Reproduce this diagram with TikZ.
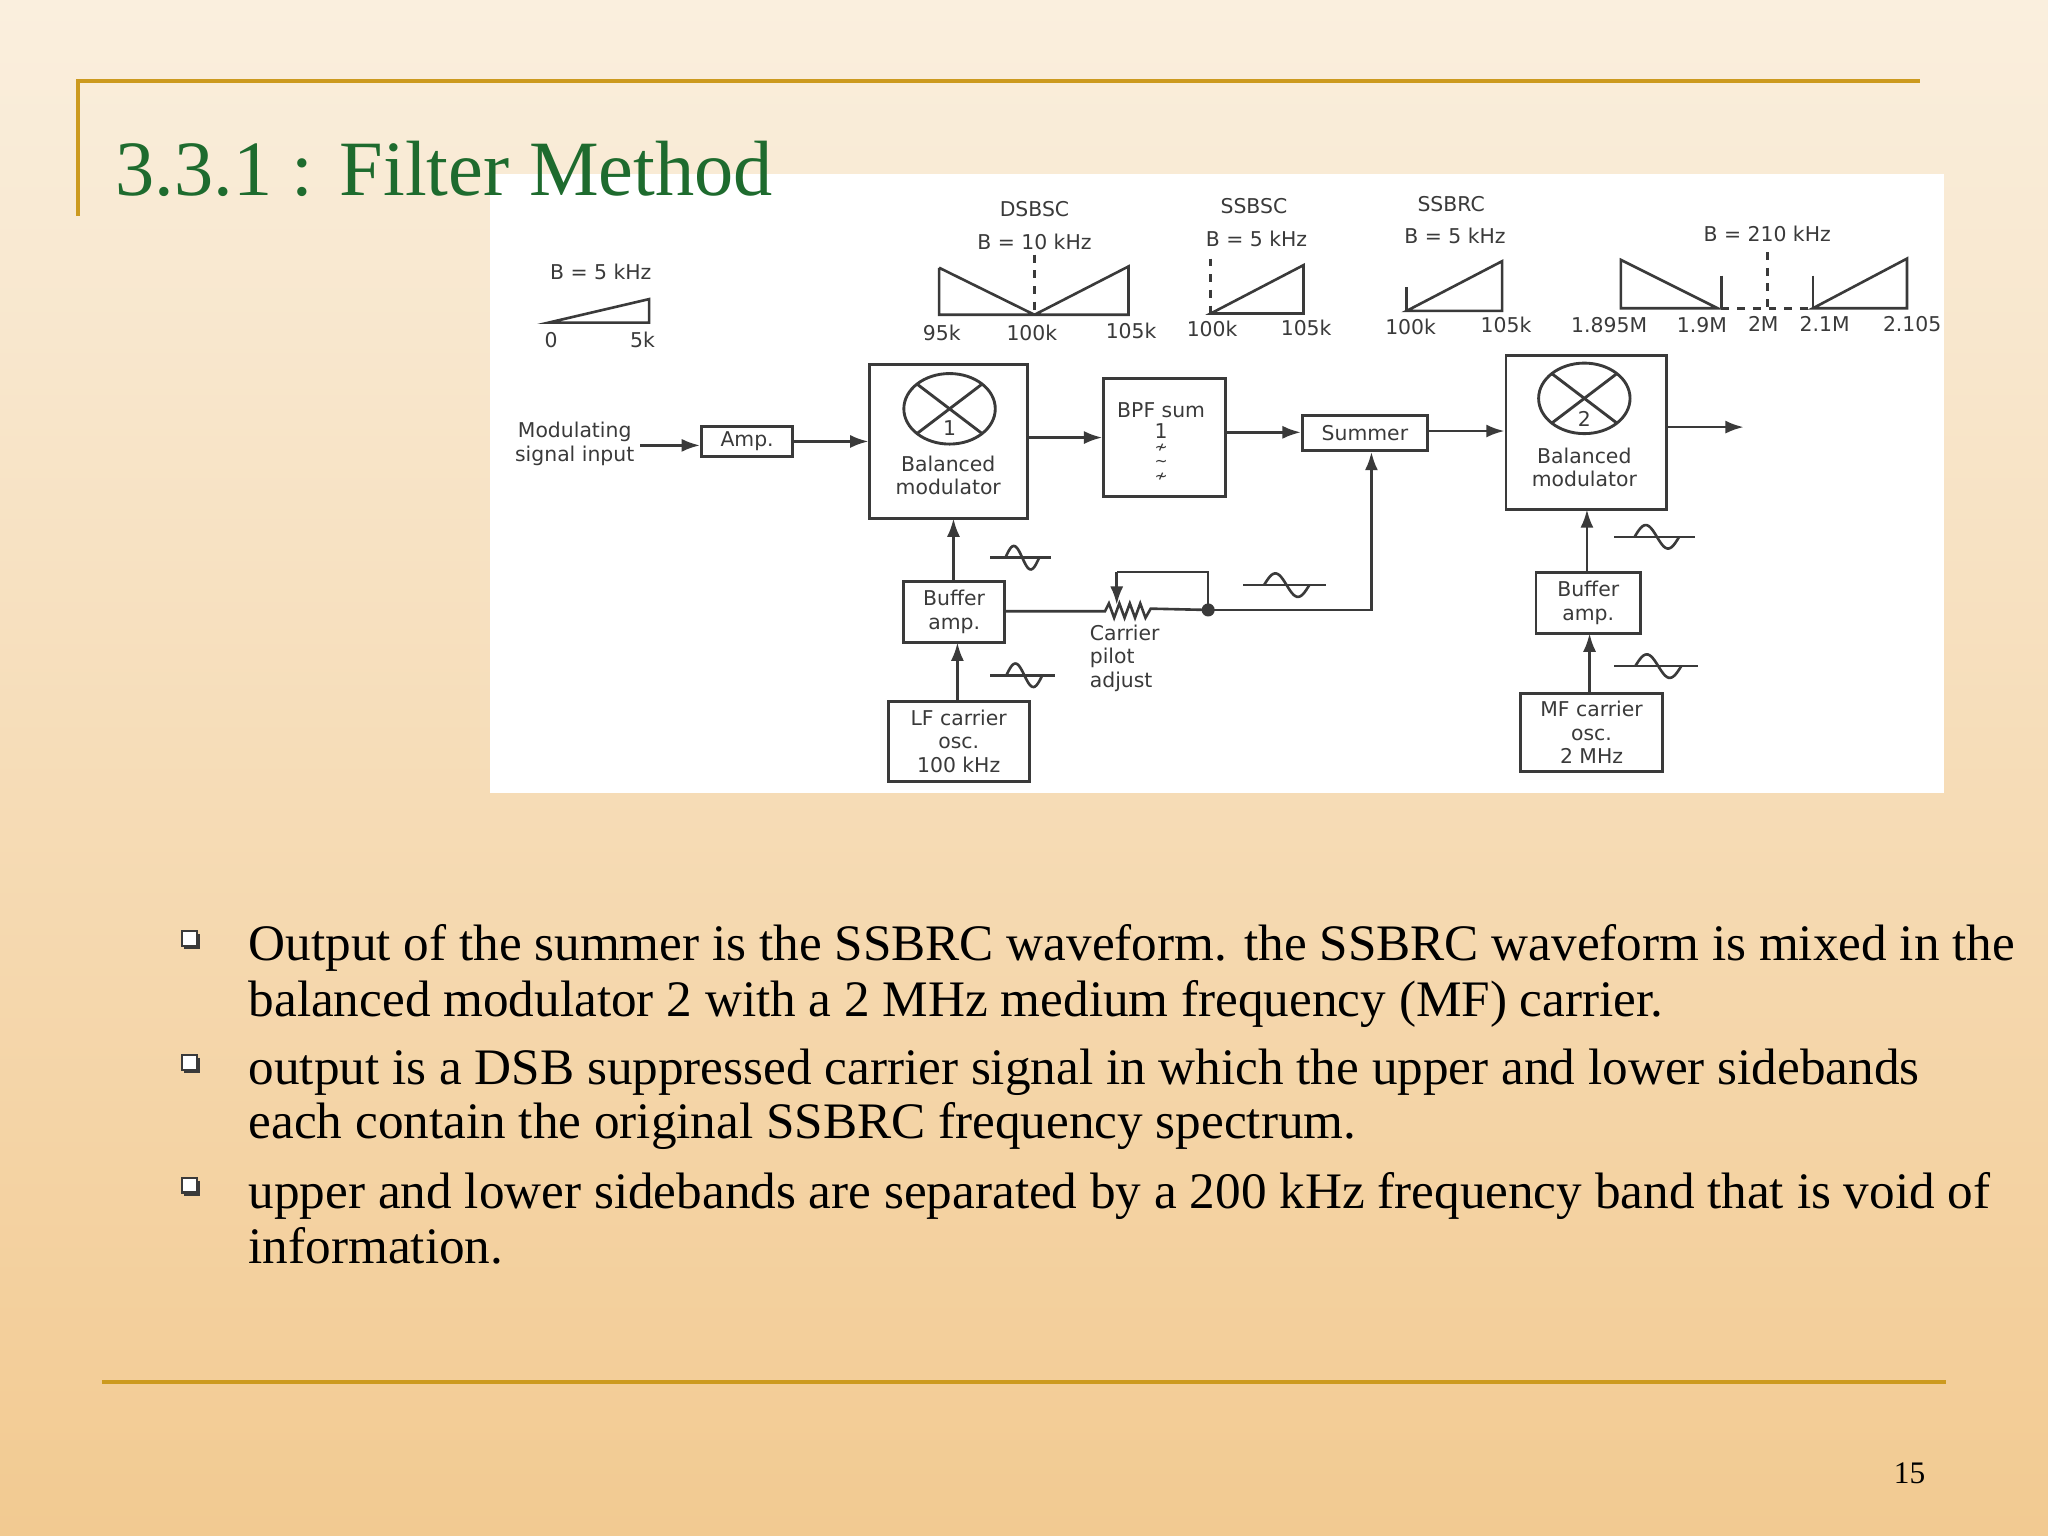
\documentclass[tikz,border=0pt]{standalone}
\usepackage{fontspec}
\setmainfont{Liberation Serif}
\newfontfamily\dg{DejaVu Sans}
\usetikzlibrary{arrows.meta}
\definecolor{gold}{HTML}{CC9A1F}
\definecolor{ttl}{HTML}{1E6B2E}
\definecolor{ink}{HTML}{3A3A3A}
\tikzset{
 blk/.style={draw=ink,line width=1.1pt,fill=white,inner sep=0pt},
 lbl/.style={text=ink,font=\dg\fontsize{7.8}{9}\selectfont,align=center,inner sep=0pt},
 wire/.style={draw=ink,line width=1pt},
 arr/.style={wire,-{Latex[length=7pt,width=5pt]}},
 spec/.style={draw=ink,line width=1pt},
 bul/.style={font=\fontsize{19.6}{21.5}\selectfont,anchor=base west,inner sep=0pt}
}
\newcommand{\sinew}[3]{\draw[ink,line width=1pt] (#1,#3) -- (#2,#3);
 \draw[ink,line width=1pt,domain=0:1,samples=30,variable=\t] plot ({#1+0.25*(#2-#1)+0.55*(#2-#1)*\t},{#3-9*sin(360*\t)});}
\begin{document}
\begin{tikzpicture}[x=0.5pt,y=-0.5pt]
\useasboundingbox (0,0) rectangle (1568,1176);
\shade[top color={rgb,255:red,250;green,239;blue,222},bottom color={rgb,255:red,242;green,202;blue,145}] (0,0) rectangle (1568,1176);
\draw[gold,line width=1.5pt] (60,165) -- (60,62) -- (1470,62);
\draw[gold,line width=1.5pt] (78,1058) -- (1490,1058);
\fill[white] (375,133) rectangle (1488,607);
\node[anchor=base west,text=ttl,font=\fontsize{30}{32}\selectfont,inner sep=0pt] (title) at (88,150) {3.3.1 : Filter Method};
% spectra
\node[lbl] (t0) at (460,208) {B = 5 kHz};
\draw[spec] (420,247) -- (497,247) -- (497,229) -- cycle;
\node[lbl] (l0a) at (422,260) {0}; \node[lbl] (l0b) at (492,260) {5k};
\node[lbl] (t1) at (792,160) {DSBSC}; \node[lbl] (t1b) at (792,185) {B = 10 kHz};
\draw[spec] (719,205) -- (719,241) -- (864,241) -- (864,204) -- (792,241) -- (719,205);
\draw[spec,dashed] (792,195) -- (792,241);
\node[lbl] (l1a) at (721,255) {95k}; \node[lbl] (l1b) at (790,255) {100k}; \node[lbl] (l1c) at (866,253) {105k};
\node[lbl] (t2) at (960,158) {SSBSC}; \node[lbl] (t2b) at (962,183) {B = 5 kHz};
\draw[spec,dashed] (927,198) -- (927,240);
\draw[spec] (927,240) -- (998,240) -- (998,203) -- cycle;
\node[lbl] (l2a) at (928,252) {100k}; \node[lbl] (l2b) at (1000,251) {105k};
\node[lbl] (t3) at (1111,156) {SSBRC}; \node[lbl] (t3b) at (1114,181) {B = 5 kHz};
\draw[spec] (1077,220) -- (1077,238);
\draw[spec] (1077,238) -- (1150,238) -- (1150,200) -- cycle;
\node[lbl] (l3a) at (1080,250) {100k}; \node[lbl] (l3b) at (1153,249) {105k};
\node[lbl] (t4) at (1353,179) {B = 210 kHz};
\draw[spec] (1241,199) -- (1241,236) -- (1315,236) -- cycle;
\draw[spec] (1318,211) -- (1318,236); \draw[spec] (1388,211) -- (1388,236);
\draw[spec,dashed] (1318,236) -- (1388,236); \draw[spec,dashed] (1353,193) -- (1353,236);
\draw[spec] (1388,236) -- (1460,236) -- (1460,198) -- cycle;
\node[lbl] (l4a) at (1232,249) {1.895M}; \node[lbl] (l4b) at (1303,249) {1.9M};
\node[lbl] (l4c) at (1350,248) {2M}; \node[lbl] (l4d) at (1397,248) {2.1M};
\begin{scope}\clip (1420,230) rectangle (1488,260);
\node[lbl] (l4e) at (1464,248) {2.105};\end{scope}
% blocks
\node[lbl,anchor=center] (min) at (440,340) {Modulating\\signal input};
\node[blk,minimum width=35pt,minimum height=11.5pt] (amp) at (572,338) {};
\node[lbl] at (amp) {Amp.};
\node[blk,minimum width=60.5pt,minimum height=59pt] (bm1) at (726.5,338) {};
\draw[ink,line width=1.1pt] (727,313) ellipse (17.5pt and 13.5pt);
\draw[ink,line width=1.1pt] (702,294) -- (752,332);
\draw[ink,line width=1.1pt] (752,294) -- (702,332);
\node[lbl] at (727,328) {1};
\node[lbl] (bm1t) at (726,364) {Balanced\\modulator};
\node[blk,minimum width=46.5pt,minimum height=45pt] (bpf) at (891.5,335) {};
\node[lbl] at (889,314) {BPF sum}; \node[lbl] at (889,330) {1};
\node[lbl,font=\dg\fontsize{6}{5.5}\selectfont] at (889,354) {≁\\∼\\≁};
\node[blk,minimum width=48pt,minimum height=13.5pt] (sum) at (1045,331.5) {};
\node[lbl] at (sum) {Summer};
\node[blk,minimum width=61.5pt,minimum height=59pt] (bm2) at (1214.5,331) {};
\draw[ink,line width=1.1pt] (1213,305) ellipse (17.5pt and 13.5pt);
\draw[ink,line width=1.1pt] (1188,286) -- (1238,324);
\draw[ink,line width=1.1pt] (1238,286) -- (1188,324);
\node[lbl] at (1213,321) {2};
\node[lbl] (bm2t) at (1213,358) {Balanced\\modulator};
\node[blk,minimum width=38.5pt,minimum height=23.5pt] (buf1) at (730.5,468.5) {};
\node[lbl] at (buf1) {Buffer\\amp.};
\node[blk,minimum width=54pt,minimum height=30.5pt] (lf) at (734,567.5) {};
\node[lbl] at (lf) {LF carrier\\osc.\\100 kHz};
\node[blk,minimum width=40pt,minimum height=23.5pt] (buf2) at (1216,461.5) {};
\node[lbl] at (buf2) {Buffer\\amp.};
\node[blk,minimum width=54.5pt,minimum height=30pt] (mf) at (1218.5,561) {};
\node[lbl] at (mf) {MF carrier\\osc.\\2 MHz};
\node[lbl,anchor=west,align=left] (cpa) at (834,504) {Carrier\\pilot\\adjust};
% connections
\coordinate (o2) at (1335,327);
\draw[arr] (490,341) -- (amp.west|-0,341);
\draw[arr] (amp.east) -- (bm1.west|-amp.east);
\draw[arr] (bm1.east|-0,335) -- (bpf.west|-0,335);
\draw[arr] (bpf.east|-0,331) -- (sum.west|-0,331);
\draw[arr] (sum.east|-0,330) -- (bm2.west|-0,330);
\draw[arr] (bm2.east|-0,327) -- (o2);
\draw[arr] (buf1.north-|730,0) -- (730,397);
\draw[arr] (lf.north-|733,0) -- (733,492);
\draw[arr] (buf2.north-|1215,0) -- (1215,390);
\draw[arr] (mf.north-|1217,0) -- (1217,485);
\coordinate (dot) at (925,467);
\draw[wire] (buf1.east|-0,468) -- (846,468) -- (849,462) -- (853,473) -- (857,462) -- (861,473) -- (865,462) -- (869,473) -- (873,462) -- (877,473) -- (881,466) -- (dot);
\draw[wire] (dot) -- (925,438) -- (855,438);
\draw[arr] (855,438) -- (855,463);
\fill[ink] (dot) circle (2.5pt);
\draw[arr] (dot) -- (1050,467) -- (1050,346);
\sinew{758}{805}{427}
\sinew{758}{808}{517}
\sinew{952}{1015}{448}
\sinew{1236}{1298}{411}
\sinew{1236}{1300}{510}
% bullets
\foreach \y in {713,808,902}{\draw[ink,line width=0.8pt,fill=white] (139,\y) rectangle (151,\y+11);
 \draw[ink,line width=1.5pt] (152,\y+2) -- (152,\y+12) -- (141,\y+12);}
\node[bul] (b1) at (190,735) {Output of the summer is the SSBRC waveform. the SSBRC waveform is mixed in the};
\node[bul] (b1b) at (190,778) {balanced modulator 2 with a 2 MHz medium frequency (MF) carrier.};
\node[bul] (b2) at (190,830) {output is a DSB suppressed carrier signal in which the upper and lower sidebands};
\node[bul] (b2b) at (190,872) {each contain the original SSBRC frequency spectrum.};
\node[bul] (b3) at (190,925) {upper and lower sidebands are separated by a 200 kHz frequency band that is void of};
\node[bul] (b3b) at (190,967) {information.};
\node[font=\fontsize{12}{14}\selectfont,inner sep=0pt] (pg) at (1462,1128) {15};
\end{tikzpicture}
\end{document}
